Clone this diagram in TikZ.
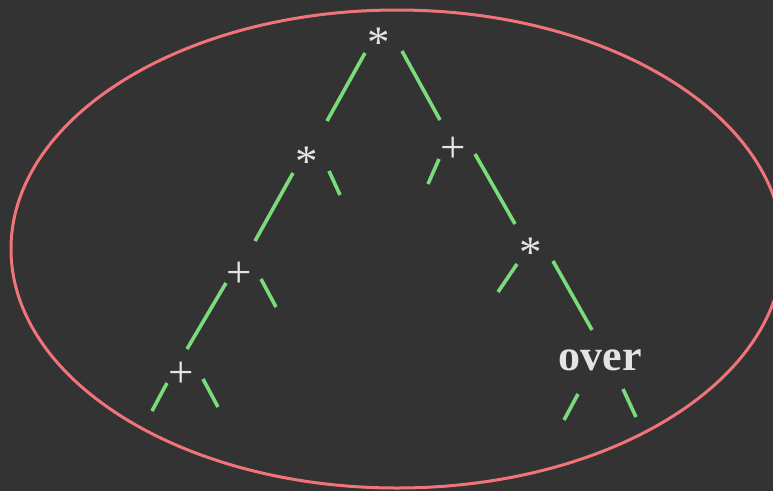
\documentclass[tikz,border=0pt]{standalone}
\usepackage{fontspec}
\setmainfont{Liberation Serif}
\definecolor{bgc}{HTML}{333333}
\definecolor{ringc}{HTML}{F07479}
\definecolor{edgec}{HTML}{7ADB7A}
\definecolor{txtc}{HTML}{E4E4E4}
\begin{document}
\begin{tikzpicture}[x=1pt,y=-1pt,
  op/.style={text=txtc,inner sep=0pt,font=\fontsize{45}{45}\selectfont},
  star/.style={op,text height=42.3pt,text depth=0pt},
  plus/.style={op,text height=29pt,text depth=0pt},
  word/.style={text=txtc,inner sep=0pt,font=\fontsize{44}{44}\selectfont\bfseries},
  edge/.style={draw=edgec,line width=3.6pt},
  ring/.style={draw=ringc,line width=3pt}]
\fill[bgc] (0,0) rectangle (773,491);
\useasboundingbox (0,0) rectangle (773,491);
\draw[ring] (397,249) ellipse [x radius=386, y radius=239];
% nodes
\node[star] (r) at (379,36) {*};
\node[star] (a) at (307,155.5) {*};
\node[plus] (b) at (453,148) {+};
\node[plus] (c) at (239,273) {+};
\node[star] (d) at (531,246.5) {*};
\node[plus] (e) at (181,373) {+};
\node[word] (f) at (600.5,360.5) {over};
% free ends of stubs
\coordinate (as) at (340,195);
\coordinate (bs) at (428,184);
\coordinate (cs) at (276,307);
\coordinate (ds) at (498,292);
\coordinate (el) at (152,411);
\coordinate (er) at (218,407);
\coordinate (fl) at (564,420);
\coordinate (fr) at (636,417);
% edges
\draw[edge] ([shift={(-14,17)}]r.center) -- ([shift={(20,-34.5)}]a.center);
\draw[edge] ([shift={(23,15)}]r.center) -- ([shift={(-13,-28)}]b.center);
\draw[edge] ([shift={(-14,17.5)}]a.center) -- ([shift={(16,-32)}]c.center);
\draw[edge] ([shift={(22,15.5)}]a.center) -- (as);
\draw[edge] ([shift={(-14,11)}]b.center) -- (bs);
\draw[edge] ([shift={(22,6)}]b.center) -- ([shift={(-16,-22.5)}]d.center);
\draw[edge] ([shift={(-13,10)}]c.center) -- ([shift={(6,-24)}]e.center);
\draw[edge] ([shift={(22,6)}]c.center) -- (cs);
\draw[edge] ([shift={(-14,17.5)}]d.center) -- (ds);
\draw[edge] ([shift={(22,14.5)}]d.center) -- ([shift={(-8.5,-30.5)}]f.center);
\draw[edge] ([shift={(-14,10)}]e.center) -- (el);
\draw[edge] ([shift={(22,6)}]e.center) -- (er);
\draw[edge] ([shift={(-22.5,33.5)}]f.center) -- (fl);
\draw[edge] ([shift={(22.5,28.5)}]f.center) -- (fr);
\end{tikzpicture}
\end{document}
